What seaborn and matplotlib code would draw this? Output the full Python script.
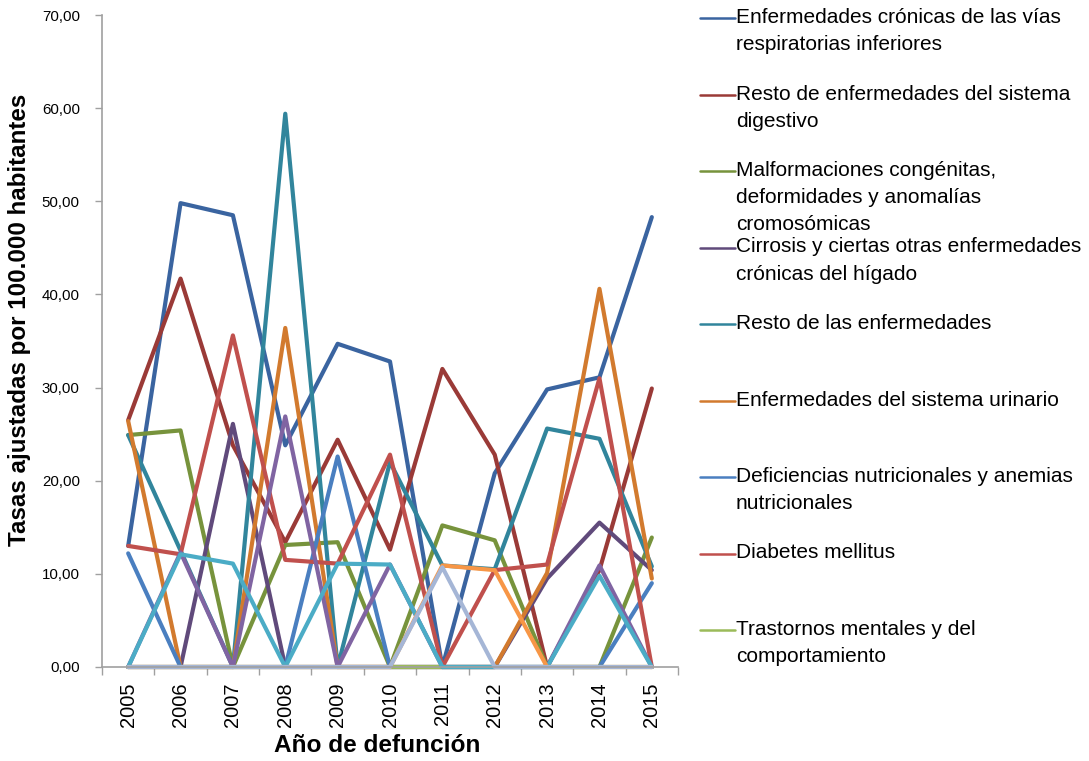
import numpy as np
import pandas as pd
import matplotlib
matplotlib.use("Agg")
import matplotlib.pyplot as plt
from matplotlib.lines import Line2D
from matplotlib.ticker import FuncFormatter, FixedLocator
import seaborn as sns

# ---- data: age-adjusted death rates per 100,000 inhabitants ----
years = [2005, 2006, 2007, 2008, 2009, 2010, 2011, 2012, 2013, 2014, 2015]

causes = [
    "Enfermedades crónicas de las vías\nrespiratorias inferiores",
    "Resto de enfermedades del sistema\ndigestivo",
    "Malformaciones congénitas,\ndeformidades y anomalías\ncromosómicas",
    "Cirrosis y ciertas otras enfermedades\ncrónicas del hígado",
    "Resto de las enfermedades",
    "Enfermedades del sistema urinario",
    "Deficiencias nutricionales y anemias\nnutricionales",
    "Diabetes mellitus",
    "Trastornos mentales y del\ncomportamiento",
    "Serie 10",
    "Serie 11",
    "Serie 12",
    "Serie 13",
]

respiratorias = [13.0, 49.8, 48.5, 23.8, 34.7, 32.8, 0.0, 20.8, 29.8, 31.1, 48.3]
digestivo = [26.5, 41.7, 23.8, 13.4, 24.4, 12.6, 32.0, 22.8, 0.0, 10.4, 29.9]
malformaciones = [24.9, 25.4, 0.0, 13.1, 13.4, 0.0, 15.2, 13.6, 0.0, 0.0, 13.9]
cirrosis = [0.0, 0.0, 26.1, 0.0, 0.0, 0.0, 0.0, 0.0, 9.5, 15.5, 10.4]
resto = [24.9, 12.5, 0.0, 59.4, 0.0, 22.0, 10.9, 10.5, 25.6, 24.5, 10.8]
urinario = [26.4, 0.0, 0.0, 36.4, 0.0, 0.0, 0.0, 0.0, 10.1, 40.6, 9.5]
nutricionales = [12.2, 0.0, 0.0, 0.0, 22.6, 0.0, 0.0, 0.0, 0.0, 0.0, 9.0]
diabetes = [13.0, 12.1, 35.6, 11.5, 11.1, 22.8, 0.0, 10.4, 11.0, 31.0, 0.0]
mentales = [0.0, 0.0, 0.0, 0.0, 0.0, 0.0, 0.0, 0.0, 0.0, 0.0, 0.0]
serie10 = [0.0, 12.3, 0.0, 26.9, 0.0, 11.0, 0.0, 0.0, 0.0, 10.9, 0.0]
serie11 = [0.0, 12.1, 11.1, 0.0, 11.1, 11.0, 0.0, 0.0, 0.0, 9.8, 0.0]
serie12 = [0.0, 0.0, 0.0, 0.0, 0.0, 0.0, 10.9, 10.4, 0.0, 0.0, 0.0]
serie13 = [0.0, 0.0, 0.0, 0.0, 0.0, 0.0, 10.7, 0.0, 0.0, 0.0, 0.0]

series = [respiratorias, digestivo, malformaciones, cirrosis, resto, urinario,
          nutricionales, diabetes, mentales, serie10, serie11, serie12, serie13]

colors = ["#3A64A0", "#9A3A37", "#77933C", "#604A7B", "#31859C", "#D27A2E",
          "#4A7FC0", "#C0504D", "#9BBB59", "#8064A2", "#4BACC6", "#F79646",
          "#A5B6D6"]

y_ticks = [0, 10, 20, 30, 40, 50, 60, 70]
n_legend = 9

# ---- long-form table ----
rows = []
for cause, vals in zip(causes, series):
    for yr, v in zip(years, vals):
        rows.append({"Año": yr, "Tasa": v, "Causa": cause})
df = pd.DataFrame(rows)

sns.set_theme(style="white")
plt.rcParams["font.family"] = ["Liberation Sans", "DejaVu Sans"]

W, H = 1089, 761
fig = plt.figure(figsize=(W / 100, H / 100), dpi=100)
ax = fig.add_axes([102 / W, 1 - 667 / H, 576 / W, 652 / H])

sns.lineplot(data=df, x="Año", y="Tasa", hue="Causa", hue_order=causes,
             palette=dict(zip(causes, colors)), sort=False, legend=False,
             linewidth=3.0, ax=ax, estimator=None)
for ln in ax.lines:
    ln.set_solid_joinstyle("round")
    ln.set_solid_capstyle("round")
    ln.set_clip_on(False)

ax.set_xlim(years[0] - 0.5, years[-1] + 0.5)
ax.set_ylim(y_ticks[0], y_ticks[-1])

# y axis
ax.set_yticks(y_ticks)
ax.yaxis.set_major_formatter(FuncFormatter(lambda v, p: f"{v:.2f}".replace(".", ",")))
ax.tick_params(axis="y", which="major", left=True, length=5, width=1,
               color="#A0A0A0", labelsize=10.8, pad=11, labelcolor="#000000")

# x axis: labels centred on years, tick marks between categories
ax.set_xticks(years)
ax.set_xticklabels([str(y) for y in years], rotation=90)
ax.xaxis.set_minor_locator(FixedLocator([y - 0.5 for y in years] + [years[-1] + 0.5]))
ax.tick_params(axis="x", which="major", bottom=False, length=0, labelsize=14.5,
               pad=11, labelcolor="#000000")
ax.tick_params(axis="x", which="minor", bottom=True, length=6, width=1,
               color="#A0A0A0")

for side in ["top", "right"]:
    ax.spines[side].set_visible(False)
for side in ["left", "bottom"]:
    ax.spines[side].set_color("#A0A0A0")
    ax.spines[side].set_linewidth(1.2)
ax.grid(False)

ax.set_xlabel("Año de defunción", fontsize=17.6, fontweight="bold",
              color="#000000")
ax.xaxis.set_label_coords((377 - 102) / 576, -(745 - 667) / 652)
ax.xaxis.label.set_va("center")
ax.set_ylabel("Tasas ajustadas por 100.000 habitantes", fontsize=17.4,
              fontweight="bold", color="#000000")
ax.yaxis.set_label_coords(-(102 - 20) / 576, (667 - 320) / 652)
ax.yaxis.label.set_va("center")

# legend: fixed slots, first nine causes
slot_top = 18
slot_step = 76.5
for i in range(n_legend):
    yc = slot_top + i * slot_step
    yf = 1 - yc / H
    fig.add_artist(Line2D([700 / W, 735 / W], [yf, yf], color=colors[i],
                          linewidth=1.8, transform=fig.transFigure))
    fig.text(736 / W, 1 - (yc - 10) / H, causes[i], fontsize=15, va="top",
             ha="left", color="#000000", linespacing=1.55)

fig.savefig("out.png", dpi=100)
